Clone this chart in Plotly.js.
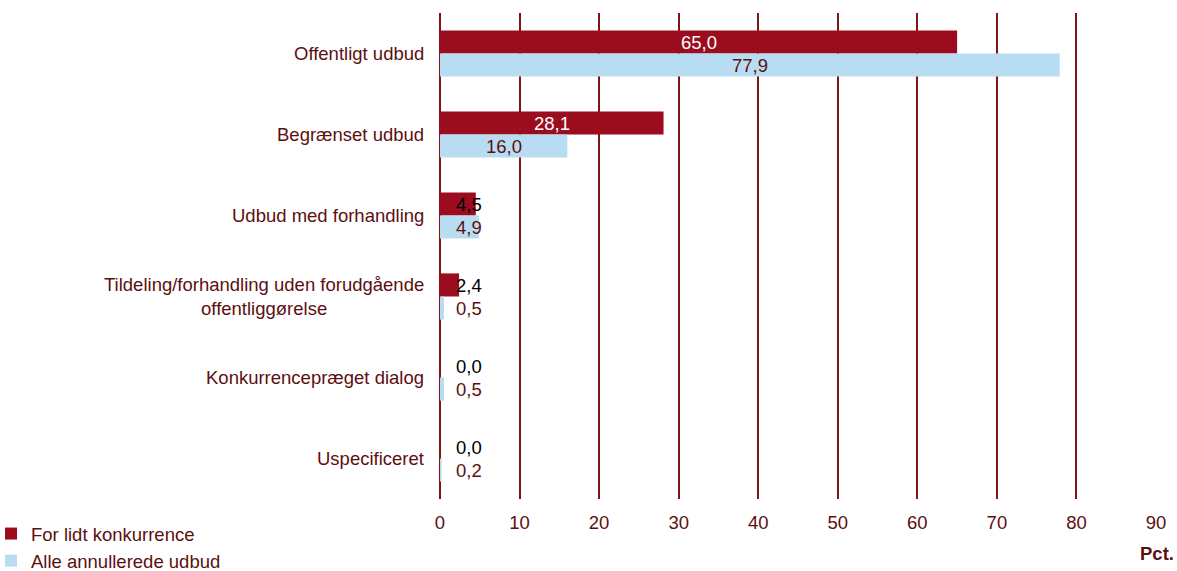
<!DOCTYPE html>
<html>
<head>
<meta charset="utf-8">
<script src="https://cdn.plot.ly/plotly-3.0.1.min.js"></script>
<style>html,body{margin:0;padding:0;background:#fff;}#chart{width:1177px;height:571px;}</style>
</head>
<body>
<div id="chart"></div>
<script>
const categories = [
  "Offentligt udbud",
  "Begrænset udbud",
  "Udbud med forhandling",
  "Tildeling/forhandling uden forudgående<br>offentliggørelse",
  "Konkurrencepræget dialog",
  "Uspecificeret"
];
const seriesNames = ["For lidt konkurrence", "Alle annullerede udbud"];
const forLidt = [65.0, 28.1, 4.5, 2.4, 0.0, 0.0];
const alle = [77.9, 16.0, 4.9, 0.5, 0.5, 0.2];
const xTicks = [0, 10, 20, 30, 40, 50, 60, 70, 80, 90];

const RED = "#9B0D1E", BLUE = "#B8DDF2", TXT = "#5C0F10", GRID = "#7E1416";
const FONT = "Liberation Sans, Arial, sans-serif";
const FS = 18.5;
const fmt = v => v.toFixed(1).replace('.', ',');

const traces = [
  {type: 'bar', orientation: 'h', name: seriesNames[0], y: categories, x: forLidt,
   marker: {color: RED}, hoverinfo: 'skip', legendgroup: 'a'},
  {type: 'bar', orientation: 'h', name: seriesNames[1], y: categories, x: alle,
   marker: {color: BLUE}, hoverinfo: 'skip', legendgroup: 'b'}
];

const annotations = [];
const series = [forLidt, alle];
series.forEach((vals, si) => {
  vals.forEach((v, i) => {
    const big = v >= 10;
    annotations.push({
      x: big ? v / 2 : 3.6, y: categories[i], xref: 'x', yref: 'y',
      text: fmt(v), showarrow: false, xanchor: 'center', yanchor: 'middle',
      yshift: si === 0 ? 11.5 : -11.5,
      font: {family: FONT, size: FS, color: si === 0 ? (big ? '#ffffff' : '#000000') : TXT}
    });
  });
});
categories.forEach(c => {
  annotations.push({
    x: 0, xref: 'paper', y: c, yref: 'y', text: c, showarrow: false,
    xanchor: 'right', yanchor: 'middle', xshift: -14, align: 'center',
    font: {family: FONT, size: FS, color: TXT}
  });
});
annotations.push({
  x: 1, xref: 'paper', y: -0.112, yref: 'paper', yanchor: 'middle', xanchor: 'right',
  text: '<b>Pct.</b>', showarrow: false, xshift: 20,
  font: {family: FONT, size: FS, color: TXT}
});

const layout = {
  width: 1177, height: 571,
  margin: {l: 440, r: 21, t: 13, b: 72},
  paper_bgcolor: '#fff', plot_bgcolor: '#fff',
  barmode: 'group', bargap: 0.43, bargroupgap: 0,
  font: {family: FONT, size: FS, color: TXT},
  xaxis: {range: [0, 90], tickvals: xTicks, ticktext: xTicks.map(String),
          showgrid: true, gridcolor: GRID, gridwidth: 2, zeroline: true,
          zerolinecolor: GRID, zerolinewidth: 2, showline: false, ticks: '',
          ticklabelstandoff: 10, tickfont: {family: FONT, size: FS, color: TXT}, fixedrange: true},
  yaxis: {type: 'category', categoryorder: 'array', categoryarray: categories,
          range: [5.5, -0.5], showticklabels: false, showgrid: false,
          zeroline: false, ticks: '', showline: false, fixedrange: true},
  showlegend: true,
  legend: {orientation: 'v', xref: 'container', yref: 'container', x: 0, y: 0.098,
           xanchor: 'left', yanchor: 'top', traceorder: 'grouped', tracegroupgap: 0,
           indentation: -9,
           font: {family: FONT, size: FS, color: TXT}, bgcolor: 'rgba(0,0,0,0)'},
  annotations: annotations
};

Plotly.newPlot('chart', traces, layout, {displayModeBar: false, staticPlot: true});
</script>
</body>
</html>
